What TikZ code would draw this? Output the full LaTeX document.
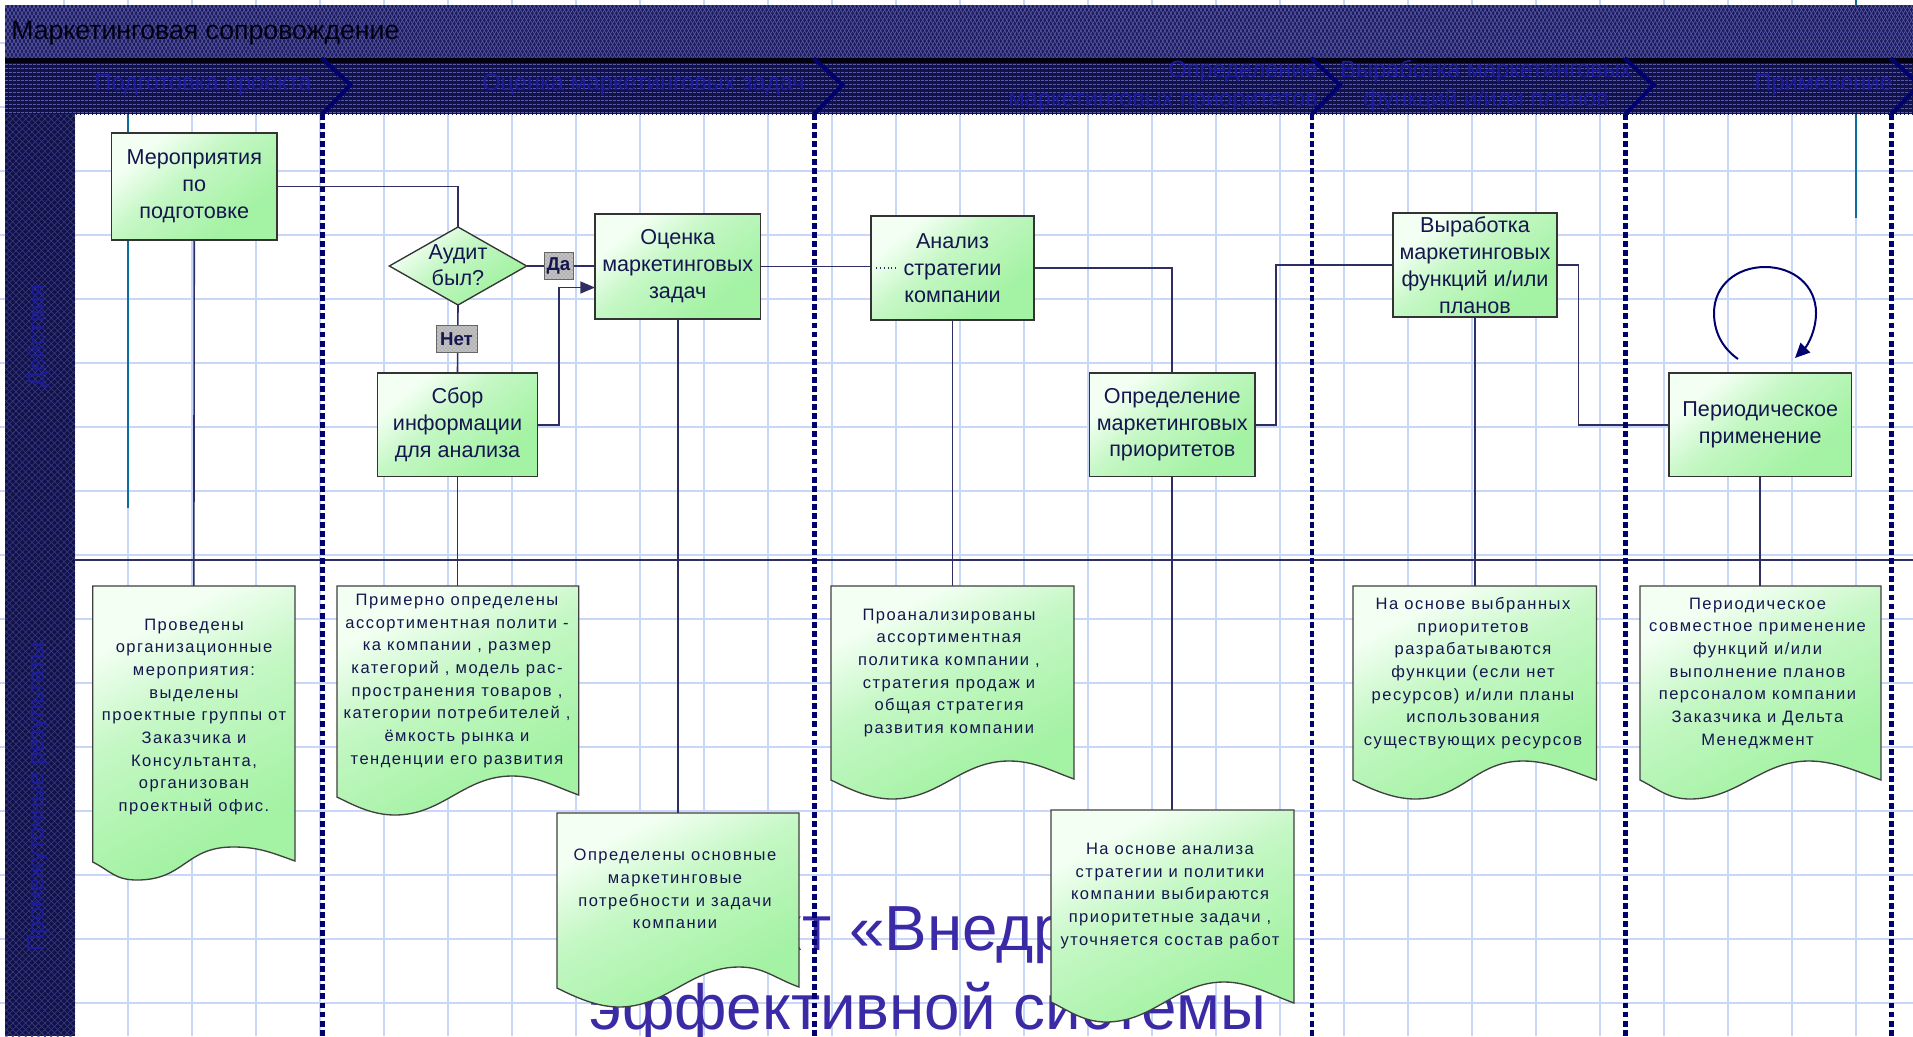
\documentclass[tikz,border=0pt]{standalone}
\usepackage{fontspec}
\setmainfont{Liberation Sans}
\newfontfamily\docfont[LetterSpace=9]{Liberation Sans}
\usetikzlibrary{shapes.geometric,patterns,patterns.meta,arrows.meta}
\pgfdeclarelayer{bg}\pgfdeclarelayer{conn}
\pgfsetlayers{bg,conn,main}
\definecolor{gridc}{HTML}{C8D6FA}
\definecolor{teal1}{HTML}{0B6C9E}
\definecolor{lin}{HTML}{2E2E62}
\definecolor{navy1}{HTML}{00006E}
\definecolor{txt}{HTML}{16164F}
\definecolor{bigc}{HTML}{3A2AA6}
\definecolor{bandA}{HTML}{1C1C5C}
\definecolor{bandB}{HTML}{12124A}
\definecolor{hatch}{HTML}{5858A8}
\definecolor{hatchD}{HTML}{3E3E86}
\definecolor{lab}{HTML}{1C1CA0}
\definecolor{gLo}{HTML}{A4F2A4}
\definecolor{gMid}{HTML}{C4F7C4}
\definecolor{gHi}{HTML}{F2FFF2}
\pgfdeclareverticalshading{greenfill}{100bp}{color(0bp)=(gLo); color(30bp)=(gLo); color(55bp)=(gMid); color(72bp)=(gHi); color(100bp)=(gHi)}
\newcommand{\boxfont}{\fontsize{16.2pt}{20.2pt}\selectfont}
\newcommand{\dfont}{\docfont\fontsize{12.4pt}{17pt}\selectfont}
\tikzset{
  x=0.75pt,y=-0.75pt,
  conline/.style={draw=lin,line width=1.2pt},
  proc/.style={draw=black!80,line width=1.1pt,shading=greenfill,shading angle=40,
    text=txt,align=center,font=\boxfont,inner sep=0pt,outer sep=0pt},
  ghost/.style={inner sep=0pt,outer sep=0pt},
  doctext/.style={text=txt,align=center,font=\dfont,inner sep=0pt},
  divider/.style={draw=navy1,line width=3.3pt,dash pattern=on 4.4pt off 2.4pt},
  chev/.style={draw=navy1,line width=3pt},
  blab/.style={text=lab,font=\fontsize{17.7pt}{21.8pt}\selectfont,inner sep=0pt},
  tag/.style={draw=black!60,line width=.4pt,preaction={fill=black!30},pattern=crosshatch dots,pattern color=white,
    text=txt,font=\bfseries\fontsize{14pt}{16pt}\selectfont,inner sep=0pt,outer sep=0pt},
  bigtext/.style={text=bigc,font=\fontsize{47.8pt}{54pt}\selectfont,inner sep=0pt},
}
% name, L, T, R, B, text
\newcommand{\procbox}[6]{\node[proc,minimum width={(#4-#2)*0.75pt},minimum height={(#5-#3)*0.75pt}] (#1) at ({(#2+#4)/2},{(#3+#5)/2}) {#6};}
% name, L, T, R, yl, xt, yt, xp, yp, yr, textx, texty, text
\newcommand{\docbox}[9]{\def\dn{#1}\def\dL{#2}\def\dT{#3}\def\dR{#4}\def\dyl{#5}\def\dxt{#6}\def\dyt{#7}\def\dxp{#8}\def\dyp{#9}\docboxb}
\newcommand{\docboxb}[4]{%
  \draw[draw=black!75,line width=1pt,shading=greenfill,shading angle=28]
    (\dL,\dT) -- (\dR,\dT) -- (\dR,#1)
    .. controls ({\dR-25},{#1-9}) and ({\dxp+25},\dyp) .. (\dxp,\dyp)
    .. controls ({\dxp-48},\dyp) and ({\dxt+48},\dyt) .. (\dxt,\dyt)
    .. controls ({\dxt-22},\dyt) and ({\dL+18},{\dyl+9}) .. (\dL,\dyl) -- cycle;
  \node[ghost,minimum width={(\dR-\dL)*0.75pt},minimum height={(\dyl-\dT)*0.75pt}] (\dn) at ({(\dL+\dR)/2},{(\dT+\dyl)/2}) {};
  \node[doctext] (\dn T) at (#2,#3) {#4};
}
\begin{document}
\begin{tikzpicture}
\useasboundingbox (0,0) rectangle (1913,1036);
\begin{pgfonlayer}{bg}
  \fill[white] (0,0) rectangle (1913,1036);
  \foreach \gx in {64,128,...,1856} \draw[gridc,line width=.9pt] (\gx,0) -- (\gx,1036);
  \foreach \gy in {43,107,...,1003} \draw[gridc,line width=1.1pt] (0,\gy) -- (1913,\gy);
  \draw[teal1,line width=1.2pt] (128,114) -- (128,508);
  \draw[teal1,line width=1.2pt] (1856,0) -- (1856,218);
  \node[bigtext] (big1) at (916,935) {Проект «Внедрение};
  \node[bigtext,anchor=base] (big2) at (928,1029) {эффективной системы};
\end{pgfonlayer}

% bands
\fill[bandA] (5,5) rectangle (1913,60);
\fill[pattern={Lines[angle=60,distance=2.6pt,line width=.5pt]},pattern color=hatch] (5,5) rectangle (1913,60);
\fill[pattern={Lines[angle=-60,distance=2.6pt,line width=.5pt]},pattern color=hatch] (5,5) rectangle (1913,60);
\fill[bandB] (5,60) rectangle (1913,114);
\fill[pattern={Lines[angle=0,distance=3pt,line width=.5pt]},pattern color=hatch] (5,63) rectangle (1913,114);
\fill[pattern={Lines[angle=90,distance=3pt,line width=.7pt]},pattern color=bandB] (5,63) rectangle (1913,114);
\fill[black!85!navy1] (5,58) rectangle (1913,63);
\fill[bandB] (5,114) rectangle (75,1036);
\fill[pattern={Lines[angle=45,distance=3.4pt,line width=.4pt]},pattern color=hatchD] (5,114) rectangle (75,1036);
\fill[pattern={Lines[angle=-45,distance=3.4pt,line width=.4pt]},pattern color=hatchD] (5,114) rectangle (75,1036);

\node[anchor=west,text=black!85!navy1,font=\fontsize{20pt}{22pt}\selectfont,inner sep=0pt] (title) at (11,33) {Маркетинговая сопровождение};
\node[blab,anchor=east] (s1) at (312,85) {Подготовка проекта};
\node[blab,anchor=east] (s2) at (805,85) {Оценка маркетинговых задач};
\node[blab,anchor=east,align=right] (s3) at (1318,86) {Определение\\маркетинговых приоритетов};
\node[blab,anchor=east,align=center] (s4) at (1632,86) {Выработка маркетинговых\\функций и/или планов};
\node[blab,anchor=east] (s5) at (1893,85) {Применение};
\node[blab,rotate=90] (l1) at (38,336) {Действия};
\node[blab,rotate=90] (l2) at (38,797) {Промежуточные результаты};

% process boxes
\procbox{a1}{111.5}{133}{277}{240}{Мероприятия\\по\\подготовке}
\node[diamond,draw=black!80,line width=1pt,shading=greenfill,shading angle=40,minimum width=103pt,minimum height=58.5pt,inner sep=0pt,outer sep=0pt] (d1) at (458,266) {};
\node[text=txt,align=center,font=\fontsize{16.2pt}{19.5pt}\selectfont,inner sep=0pt] (d1t) at (458,265) {Аудит\\был?};
\procbox{a2}{595}{214}{760.5}{319}{Оценка\\маркетинговых\\задач}
\procbox{a3}{377.5}{373}{537.5}{476.5}{Сбор\\информации\\для анализа}
\procbox{a4}{871}{216}{1034}{320}{Анализ\\стратегии\\компании}
\procbox{a5}{1089.5}{373}{1255}{476.5}{Определение\\маркетинговых\\приоритетов}
\procbox{a6}{1393}{213}{1557}{317}{Выработка\\маркетинговых\\функций и/или\\планов}
\procbox{a7}{1669}{373}{1851.5}{476.5}{Периодическое\\применение}

% documents
\docbox{t1}{92.7}{586}{295}{862}{137}{880}{233}{847}{861}{194}{717}{Проведены\\организационные\\мероприятия:\\выделены\\проектные группы от\\Заказчика и\\Консультанта,\\организован\\проектный офис.}
\docbox{t2}{337}{586}{578.7}{797}{395}{815}{512}{776}{795}{457}{681}{Примерно определены\\ассортиментная полити -\\ка компании , размер\\категорий , модель рас-\\пространения товаров ,\\категории потребителей ,\\ёмкость рынка и\\тенденции его развития}
\docbox{t3}{831}{586}{1074}{780}{892}{799}{1009}{761}{779}{949}{673}{Проанализированы\\ассортиментная\\политика компании ,\\стратегия продаж и\\общая стратегия\\развития компании}
\docbox{t4}{557}{813}{799}{988}{619}{1007}{739}{967}{987}{675}{889}{Определены основные\\маркетинговые\\потребности и задачи\\компании}
\docbox{t5}{1051}{810}{1294}{1002}{1106}{1022}{1224}{982}{1003}{1170}{896}{На основе анализа\\стратегии и политики\\компании выбираются\\приоритетные задачи ,\\уточняется состав работ}
\docbox{t6}{1353}{586}{1596.5}{780}{1415}{799}{1523}{761}{780}{1473}{673}{На основе выбранных\\приоритетов\\разрабатываются\\функции (если нет\\ресурсов) и/или планы\\использования\\существующих ресурсов}
\docbox{t7}{1640}{586}{1881}{780}{1690}{799}{1809}{761}{780}{1757.5}{673}{Периодическое\\совместное применение\\функций и/или\\выполнение планов\\персоналом компании\\Заказчика и Дельта\\Менеджмент}

% labels on connectors
\node[tag,minimum width=21.7pt,minimum height=20pt] (da) at (558.5,265.5) {Да};
\node[tag,minimum width=30.7pt,minimum height=20.5pt] (net) at (456.5,339) {Нет};

\begin{pgfonlayer}{conn}
  \coordinate (a2in) at ([yshift=-15.75pt]a2.west);
  \coordinate (lp1) at (1738,359);
  \coordinate (lp2) at (1795,358);
  \coordinate (lp3) at (1714,313);
  \coordinate (lp4) at (1765,267);
  \coordinate (lp5) at (1816,313);
  \draw[conline] (a1.east) -| (d1.north);
  \draw[conline] (a1.south) -- (t1.north);
  \draw[conline] (d1.east) -- (d1.east -| a2.west);
  \draw[conline] (d1.south) -- (a3.north);
  \draw[conline,-{Triangle[length=11pt,width=9pt]}] (a3.east) -- ++(21.5,0) |- (a2in);
  \draw[conline] (a3.south) -- (a3.south |- t2.north);
  \draw[conline] (a2.east) -- (a2.east -| a4.west);
  \draw[conline] (a2.south) -- (a2.south |- t4.north);
  \draw[conline] (a4.east) -| (a5.north);
  \draw[conline] (a4.south) -- (a4.south |- t3.north);
  \draw[conline] (a5.east) -- ++(21,0) |- (a6.west);
  \draw[conline] (a5.south) -- (a5.south |- t5.north);
  \draw[conline] (a6.east) -- ++(21.5,0) |- (a7.west);
  \draw[conline] (a6.south) -- (a6.south |- t6.north);
  \draw[conline] (a7.south) -- (a7.south |- t7.north);
  \draw[draw=navy1,line width=1.5pt,-{Triangle[length=11pt,width=10pt]}]
    (lp1) .. controls (1725,350) and (1714,335) .. (lp3)
    .. controls (1714,285) and (1737,267) .. (lp4)
    .. controls (1793,267) and (1816,285) .. (lp5)
    .. controls (1816,330) and (1808,345) .. (lp2);
  \coordinate (lane1) at (75,560);
  \coordinate (lane2) at (1913,560);
  \draw[conline] (lane1) -- (lane2);
  \foreach \dx in {322.5,814.5,1312,1625.5,1891.5} {
    \draw[divider] (\dx,114) -- (\dx,1036);
  }
\end{pgfonlayer}
% chevrons in the band
\foreach \dx in {322.5,814.5,1312,1625.5,1891.5} {
  \draw[chev] (\dx-1,58) -- (\dx+28,85) -- (\dx,114);
}
\draw[dotted,line width=.8pt,draw=lin] ([xshift=4pt]a4.west) -- ++(16pt,0);
\end{tikzpicture}
\end{document}
